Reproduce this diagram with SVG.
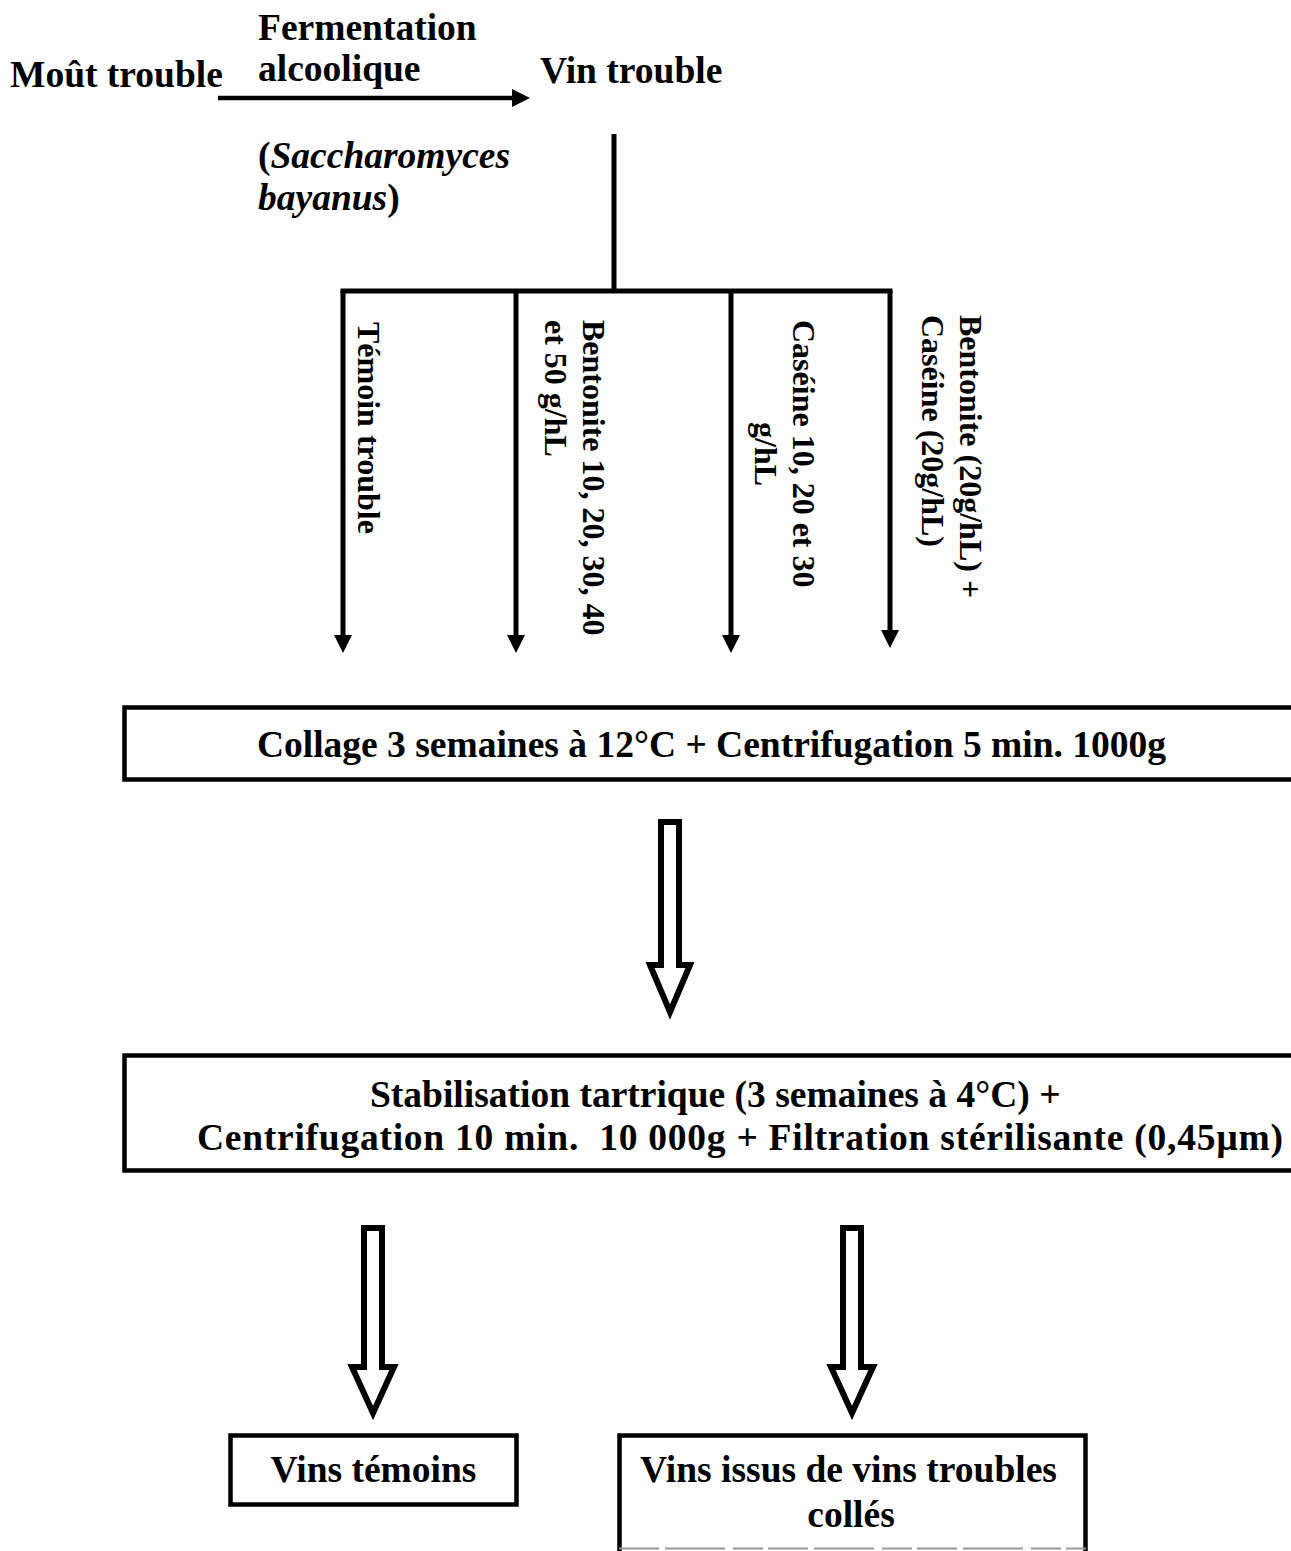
<svg xmlns="http://www.w3.org/2000/svg" width="1291" height="1551" viewBox="0 0 1291 1551">
  <style>
    text { font-family: "Liberation Serif", "Times New Roman", serif; font-weight: bold; fill: #000; }
    .h { font-size: 37.5px; }
    .v { font-size: 32px; }
    .mid { text-anchor: middle; }
    .line { fill: none; stroke: #000; stroke-width: 5; }
    .thin { fill: none; stroke: #000; stroke-width: 4.5; }
    .box { fill: #fff; stroke: #000; stroke-width: 4.5; }
    .hollow { fill: #fff; stroke: #000; stroke-width: 6; stroke-linejoin: miter; stroke-miterlimit: 10; }
  </style>
  <defs>
    <marker id="tri" markerUnits="userSpaceOnUse" markerWidth="20" markerHeight="20" refX="6" refY="9" orient="auto">
      <path d="M0,0 L18,9 L0,18 Z" fill="#000"/>
    </marker>
  </defs>
  <rect width="1291" height="1551" fill="#fff"/>

  <!-- source and fermentation step -->
  <g id="mout">
    <text class="h" x="10" y="87">Moût trouble</text>
  </g>
  <g id="fermentation">
    <text class="h" x="258" y="40">Fermentation</text>
    <text class="h" x="258" y="81">alcoolique</text>
    <text class="h" x="258" y="168">(<tspan font-style="italic">Saccharomyces</tspan></text>
    <text class="h" x="258" y="210"><tspan font-style="italic">bayanus</tspan>)</text>
  </g>
  <g id="vin">
    <text class="h" x="540" y="83">Vin trouble</text>
  </g>

  <!-- fining treatments (vertical labels) -->
  <g id="temoin">
    <text class="v" transform="translate(358,322) rotate(90)">Témoin trouble</text>
  </g>
  <g id="bentonite">
    <text class="v" transform="translate(583,320) rotate(90)">Bentonite 10, 20, 30, 40</text>
    <text class="v" transform="translate(545,320) rotate(90)">et 50 g/hL</text>
  </g>
  <g id="caseine">
    <text class="v" transform="translate(793,320) rotate(90)">Caséine 10, 20 et 30</text>
    <text class="v mid" transform="translate(755,454) rotate(90)">g/hL</text>
  </g>
  <g id="mix">
    <text class="v" transform="translate(960,315) rotate(90)">Bentonite (20g/hL) +</text>
    <text class="v" transform="translate(922,315) rotate(90)">Caséine (20g/hL)</text>
  </g>

  <!-- process boxes -->
  <g id="collage">
    <rect class="box" x="124.5" y="707.5" width="1180" height="72"/>
    <text class="h mid" x="711.5" y="757">Collage 3 semaines à 12°C + Centrifugation 5 min. 1000g</text>
  </g>
  <g id="stabilisation">
    <rect class="box" x="124.5" y="1055.5" width="1180" height="115"/>
    <text class="h" x="370" y="1107">Stabilisation tartrique (3 semaines à 4°C) +</text>
    <text class="h" x="197" y="1150" textLength="1086" lengthAdjust="spacing" xml:space="preserve">Centrifugation 10 min.  10 000g + Filtration stérilisante (0,45µm)</text>
  </g>
  <g id="vins-temoins">
    <rect class="box" x="230.5" y="1435.5" width="286" height="69"/>
    <text class="h mid" x="373.5" y="1482">Vins témoins</text>
  </g>
  <g id="vins-colles">
    <path d="M619.5,1560 V1435.5 H1085.5 V1560" class="box"/>
    <line x1="619" y1="1548.5" x2="1086" y2="1548.5" stroke="#9a9a9a" stroke-width="2" stroke-dasharray="40 6 60 8 30 5"/>
    <text class="h mid" x="848.5" y="1482">Vins issus de vins troubles</text>
    <text class="h mid" x="851" y="1527">collés</text>
  </g>

  <!-- connectors -->
  <g id="connectors">
    <line class="thin" x1="218" y1="98" x2="518" y2="98" marker-end="url(#tri)"/>
    <line class="line" x1="614" y1="134" x2="614" y2="291"/>
    <line class="line" x1="340.5" y1="291" x2="892.5" y2="291"/>
    <line class="line" x1="343" y1="291" x2="343" y2="641" marker-end="url(#tri)"/>
    <line class="line" x1="516" y1="291" x2="516" y2="641" marker-end="url(#tri)"/>
    <line class="line" x1="731" y1="291" x2="731" y2="641" marker-end="url(#tri)"/>
    <line class="line" x1="890" y1="291" x2="890" y2="636" marker-end="url(#tri)"/>
    <polygon class="hollow" points="661,822 679,822 679,965 690,965 670,1012 650,965 661,965"/>
    <polygon class="hollow" points="364,1228 382,1228 382,1367 394,1367 373,1413 352,1367 364,1367"/>
    <polygon class="hollow" points="843,1228 861,1228 861,1367 873,1367 852,1413 831,1367 843,1367"/>
  </g>
</svg>
